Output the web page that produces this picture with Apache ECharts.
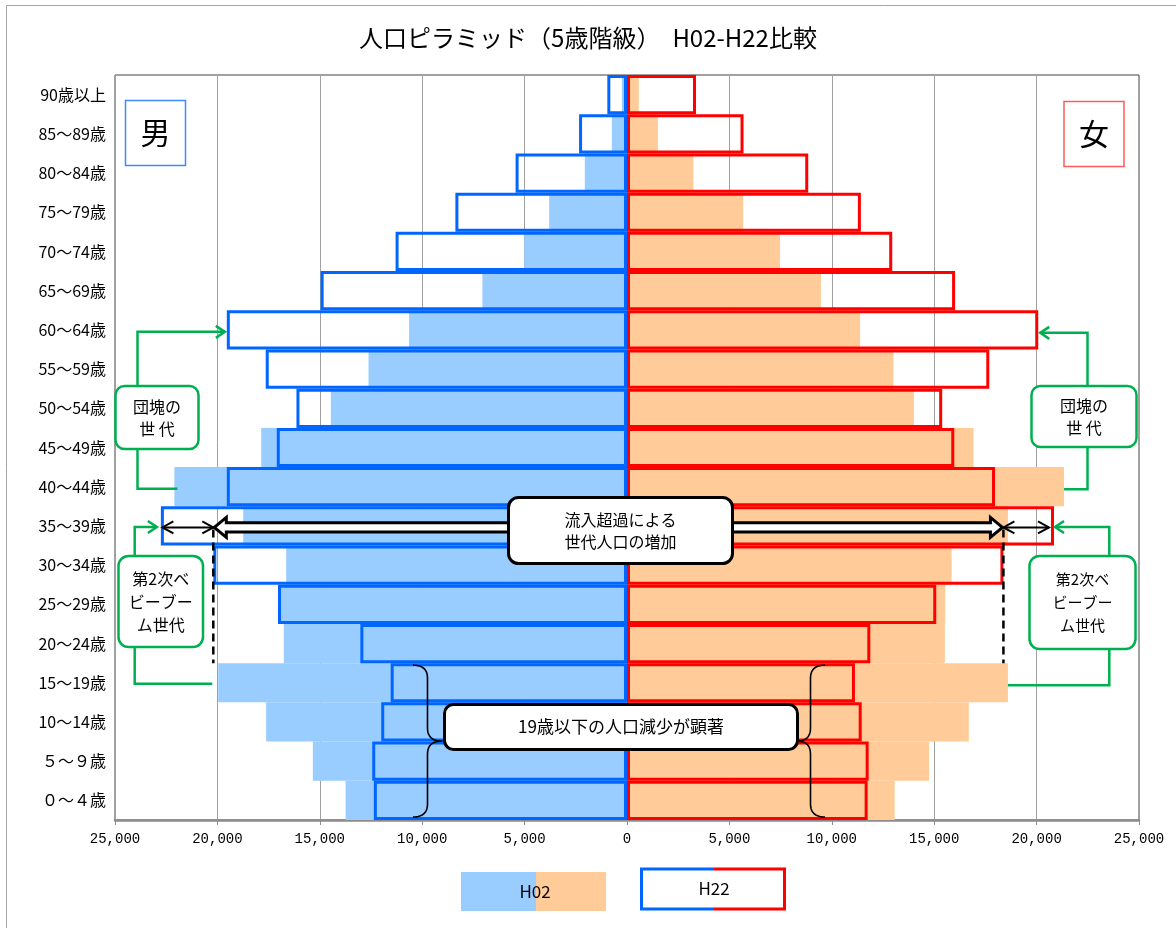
<!DOCTYPE html>
<html>
<head>
<meta charset="utf-8">
<script src="https://cdn.jsdelivr.net/npm/echarts@6/dist/echarts.min.js"></script>
<style>
html,body{margin:0;padding:0;background:#fff;}
#c{width:1176px;height:928px;}
</style>
</head>
<body>
<div id="c"></div>
<script>
// 年齢階級（下から上へ）
const ageGroups = ['０～４歳','５～９歳','10～14歳','15～19歳','20～24歳','25～29歳','30～34歳','35～39歳','40～44歳','45～49歳','50～54歳','55～59歳','60～64歳','65～69歳','70～74歳','75～79歳','80～84歳','85～89歳','90歳以上'];
// 人口（人）
const maleH02   = [13740,15340,17620,19960,16760,16900,16640,18740,22100,17860,14460,12620,10640,7060,5020,3800,2060,740,250];
const femaleH02 = [13070,14750,16690,18600,15520,15540,15850,18600,21340,16920,14010,13010,11380,9470,7470,5670,3240,1510,575];
const maleH22   = [12360,12440,12000,11540,13020,17040,20200,22760,19540,17100,16140,17640,19540,14960,11300,8380,5440,2340,960];
const femaleH22 = [11750,11800,11460,11130,11880,15100,18380,20850,17970,15980,15390,17690,20080,16020,12950,11420,8850,5690,3370];
const seriesNames = ['H02','H22'];
const titleText = '人口ピラミッド（5歳階級）　H02-H22比較';
const axisMin = -25000, axisMax = 25000, axisStep = 5000;

const CJK = '"Noto Sans CJK JP", "Noto Sans CJK SC", sans-serif';
const C = {
  maleFill:'#99CCFF', femaleFill:'#FFCC99',
  maleLine:'#0066FF', femaleLine:'#FF0000',
  green:'#00B050'
};

const chart = echarts.init(document.getElementById('c'), null, {renderer:'canvas'});

const barBase = {type:'bar', barGap:'-100%', barCategoryGap:'0%', silent:true};
chart.setOption({
  animation:false,
  backgroundColor:'#fff',
  title:{
    text:titleText, left:'center', top:21,
    textStyle:{fontSize:24, fontWeight:'normal', color:'#000', fontFamily:CJK}
  },
  grid:{left:115, right:37, top:75, bottom:108, show:true, borderColor:'#404040', borderWidth:1, backgroundColor:'#fff'},
  xAxis:{
    type:'value', min:axisMin, max:axisMax, interval:axisStep,
    axisLine:{show:true, onZero:false, lineStyle:{color:'#8c8c8c', width:2.5}},
    axisTick:{show:true, length:5, lineStyle:{color:'#8c8c8c'}},
    splitLine:{show:true, lineStyle:{color:'#a0a0a0', width:1}},
    axisLabel:{
      formatter:v => Math.abs(v).toLocaleString('en-US'),
      fontFamily:'"Liberation Mono", monospace', fontSize:14, color:'#000', margin:12
    }
  },
  yAxis:{
    type:'category', data:ageGroups,
    axisLine:{show:false, onZero:false}, axisTick:{show:false},
    axisLabel:{fontFamily:CJK, fontSize:16, color:'#000', margin:9}
  },
  series:[
    Object.assign({}, barBase, {name:seriesNames[0]+'男', z:2, data:maleH02.map(v=>-v), itemStyle:{color:C.maleFill}}),
    Object.assign({}, barBase, {name:seriesNames[0]+'女', z:2, data:femaleH02, itemStyle:{color:C.femaleFill}}),
    Object.assign({}, barBase, {name:seriesNames[1]+'男', z:3, data:maleH22.map(v=>-v), itemStyle:{color:'rgba(0,0,0,0)', borderColor:C.maleLine, borderWidth:3}}),
    Object.assign({}, barBase, {name:seriesNames[1]+'女', z:4, data:femaleH22, itemStyle:{color:'rgba(0,0,0,0)', borderColor:C.femaleLine, borderWidth:3}})
  ]
});

// ---- 注記（データ座標から位置を算出） ----
const P = (v, i) => chart.convertToPixel({gridIndex:0}, [v, i]);
const rowY = i => P(0, i)[1];
const band = Math.abs(rowY(0) - rowY(1));
const rowBottom = i => rowY(i) + band / 2;
const rowTop = i => rowY(i) - band / 2;
const idx = name => ageGroups.indexOf(name);

const g = [];
const Z = 50;
function poly(points, color, lw, dash, z) {
  g.push({type:'polyline', silent:true, z:z||Z, shape:{points}, style:{stroke:color, lineWidth:lw, fill:null, lineDash:dash||null, lineJoin:'miter'}});
}
function chevron(x, y, dir, color, lw, len, half, z) {
  poly([[x - dir*len, y - half], [x, y], [x - dir*len, y + half]], color, lw, null, z);
}
function box(x, y, w, h, r, stroke, lw, text, fs, lh, z) {
  g.push({type:'rect', silent:true, z:(z||Z)+1, shape:{x, y, width:w, height:h, r}, style:{fill:'#fff', stroke, lineWidth:lw}});
  g.push({type:'text', silent:true, z:(z||Z)+2, x:x + w/2, y:y + h/2,
    style:{text, fontSize:fs, fontFamily:CJK, fill:'#000', align:'center', verticalAlign:'middle', lineHeight:lh||fs}});
}
// 二次ベジェ曲線を折れ線で近似
function quad(p0, c, p1, n) {
  const out = [];
  for (let k = 0; k <= n; k++) {
    const t = k / n, u = 1 - t;
    out.push([u*u*p0[0] + 2*u*t*c[0] + t*t*p1[0], u*u*p0[1] + 2*u*t*c[1] + t*t*p1[1]]);
  }
  return out;
}
function brace(x0, xm, xt, y0, y1, r) {
  const ym = (y0 + y1) / 2;
  const pts = [].concat(
    quad([x0, y0], [xm, y0], [xm, y0 + r], 10),
    quad([xm, ym - r], [xm, ym], [xt, ym], 10),
    quad([xt, ym], [xm, ym], [xm, ym + r], 10),
    quad([xm, y1 - r], [xm, y1], [x0, y1], 10)
  );
  g.push({type:'polyline', silent:true, z:Z, shape:{points:pts}, style:{stroke:'#000', lineWidth:1.6, fill:null, lineJoin:'round'}});
}
function blockArrow(xt, xb, yc, dir) {
  // dir: -1 = 左向き, +1 = 右向き
  const hl = 12, hh = 10, sh = 4.7;
  const xh = xt - dir * hl;
  g.push({type:'polygon', silent:true, z:Z+5, shape:{points:[
    [xt, yc], [xh, yc - hh], [xh, yc - sh], [xb, yc - sh], [xb, yc + sh], [xh, yc + sh], [xh, yc + hh]
  ]}, style:{fill:'#fff', stroke:'#000', lineWidth:3, lineJoin:'miter'}});
}

// 外枠
g.push({type:'rect', silent:true, z:0, shape:{x:6.5, y:5.5, width:1200, height:1000}, style:{fill:null, stroke:'#a6a6a6', lineWidth:1}});

// 男・女
box(125.5, 100.5, 60, 65, 0, '#3D8BFF', 1.5, '男', 30);
box(1064, 101.5, 60, 65, 0, '#FF5B5B', 1.5, '女', 30);

const i60 = idx('60～64歳'), i40 = idx('40～44歳'), i35 = idx('35～39歳'), i30 = idx('30～34歳'), i20 = idx('20～24歳'), i15 = idx('15～19歳'), i0 = idx('０～４歳');

// 団塊の世代（左）
{
  const cx = 137.5, yTop = rowY(i60) + 2, yBot = rowY(i40) + 2;
  const tip = P(-maleH22[i60], i60)[0] - 2;
  poly([[cx, 390], [cx, yTop], [tip, yTop]], C.green, 2.5);
  chevron(tip, yTop, 1, C.green, 2.5, 9, 6);
  poly([[cx, 445], [cx, yBot], [P(-maleH02[i40], i40)[0] + 3, yBot]], C.green, 2.5);
  box(115.5, 386, 83, 63, 9, C.green, 2.5, '団塊の\n世 代', 16, 22);
}
// 団塊の世代（右）
{
  const cx = 1087.5, yTop = rowY(i60) + 3, yBot = rowY(i40) + 2.5;
  const tip = P(femaleH22[i60], i60)[0] + 2;
  poly([[cx, 390], [cx, yTop], [tip, yTop]], C.green, 2.5);
  chevron(tip, yTop, -1, C.green, 2.5, 9, 6);
  poly([[cx, 444], [cx, yBot], [P(femaleH02[i40], i40)[0], yBot]], C.green, 2.5);
  box(1031.5, 386, 105, 61, 9, C.green, 2.5, '団塊の\n世 代', 16, 22);
}

// 流入超過：破線と矢印
const yArr = rowY(i35) + 1.5;
const dashL = P(-maleH22[i30], i30)[0];
const dashR = P(femaleH22[i30], i30)[0];
poly([[dashL, yArr + 2], [dashL, rowBottom(i20)]], '#000', 2.5, [8, 5]);
poly([[dashR, yArr + 2], [dashR, rowBottom(i20)]], '#000', 2.5, [8, 5]);
{
  const l1 = P(-maleH22[i35], i35)[0] + 1.5;
  poly([[l1, yArr], [dashL, yArr]], '#000', 2);
  chevron(l1, yArr, -1, '#000', 2, 11, 6);
  chevron(dashL, yArr, 1, '#000', 2, 11, 6);
  const r1 = P(femaleH22[i35], i35)[0] - 5;
  poly([[dashR, yArr], [r1, yArr]], '#000', 2);
  chevron(r1, yArr, 1, '#000', 2, 11, 6);
  chevron(dashR, yArr, -1, '#000', 2, 11, 6);
}
blockArrow(dashL + 1, 512, yArr, -1);
blockArrow(dashR - 1, 729, yArr, 1);
box(508.5, 497.5, 224, 66, 10, '#000', 3, '流入超過による\n世代人口の増加', 16, 22, Z + 10);

// 第2次ベビーブーム世代（左）
{
  const cx = 134.7, yTop = yArr - 0.5, yBot = rowY(i15) + 1;
  const tip = P(-maleH22[i35], i35)[0] - 4;
  poly([[cx, 560], [cx, yTop], [tip, yTop]], C.green, 2.5);
  chevron(tip, yTop, 1, C.green, 2.5, 9, 6);
  poly([[cx, 643], [cx, yBot], [dashL - 1, yBot]], C.green, 2.5);
  box(118.5, 556, 84.5, 91, 10, C.green, 2.5, '第2次ベ\nビーブー\nム世代', 16, 23);
}
// 第2次ベビーブーム世代（右）
{
  const cx = 1109.3, yTop = yArr - 0.5, yBot = rowY(i15) + 2.5;
  const tip = P(femaleH22[i35], i35)[0] + 1;
  poly([[cx, 560], [cx, yTop], [tip, yTop]], C.green, 2.5);
  chevron(tip, yTop, -1, C.green, 2.5, 9, 6);
  poly([[cx, 645], [cx, yBot], [P(femaleH02[i15], i15)[0], yBot]], C.green, 2.5);
  box(1029.5, 556, 106, 93, 10, C.green, 2.5, '第2次ベ\nビーブー\nム世代', 15, 23);
}

// 19歳以下：括弧と説明
{
  const y0 = rowTop(i15) + 2, y1 = rowBottom(i0) - 3;
  brace(413, 427.5, 442, y0, y1, 13);
  brace(825, 810.5, 797, y0, y1, 13);
  box(444.5, 704.5, 353, 45, 9, '#000', 3, '19歳以下の人口減少が顕著', 17, 17, Z + 10);
}

// 凡例
g.push({type:'rect', silent:true, z:Z, shape:{x:461, y:872, width:75, height:39}, style:{fill:C.maleFill}});
g.push({type:'rect', silent:true, z:Z, shape:{x:536, y:872, width:70, height:39}, style:{fill:C.femaleFill}});
g.push({type:'text', silent:true, z:Z+1, x:535, y:892, style:{text:seriesNames[0], fontSize:17, fontFamily:CJK, fill:'#000', align:'center', verticalAlign:'middle'}});
g.push({type:'rect', silent:true, z:Z, shape:{x:641.5, y:869, width:143, height:40}, style:{fill:'#fff'}});
poly([[714, 869], [641.5, 869], [641.5, 909], [714, 909]], C.maleLine, 3);
poly([[714, 869], [784.5, 869], [784.5, 909], [714, 909]], C.femaleLine, 3);
g.push({type:'text', silent:true, z:Z+1, x:714, y:889, style:{text:seriesNames[1], fontSize:17, fontFamily:CJK, fill:'#000', align:'center', verticalAlign:'middle'}});

chart.setOption({graphic:{elements:g}});
</script>
</body>
</html>
